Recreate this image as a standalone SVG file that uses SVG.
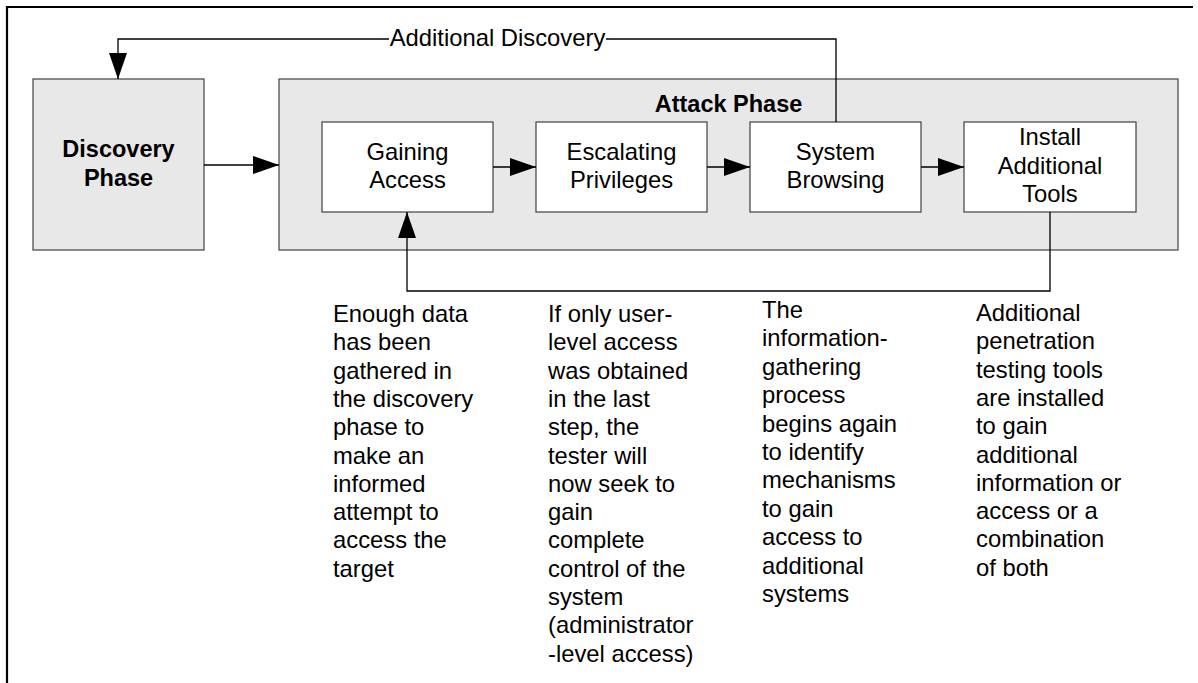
<svg xmlns="http://www.w3.org/2000/svg" width="1198" height="683" viewBox="0 0 1198 683">
<style>
.box{fill:#fff;stroke:#404040;stroke-width:1.2}
.phase{fill:#e8e8e8;stroke:#404040;stroke-width:1.2}
.t{font-family:"Liberation Sans",Arial,sans-serif;font-size:23.8px;fill:#000}
.b{font-weight:bold;font-size:23.5px}
.c{text-anchor:middle}
.ln{fill:none;stroke:#000;stroke-width:1.3}
</style>
<defs>
<marker id="ah" markerWidth="26" markerHeight="18" refX="26" refY="9" orient="auto" markerUnits="userSpaceOnUse">
<path d="M0,0 L26,9 L0,18 Z" fill="#000"/>
</marker>
</defs>
<rect width="1198" height="683" fill="#fff"/>
<path d="M7,683 V7 H1193" fill="none" stroke="#000" stroke-width="2.2"/>
<g id="discovery">
<rect class="phase" x="33" y="79" width="171" height="171"/>
<text class="t b c" x="118.5" y="157">Discovery</text>
<text class="t b c" x="118.5" y="186">Phase</text>
</g>
<g id="attack">
<rect class="phase" x="279" y="79" width="899" height="171"/>
<text class="t b c" x="728.5" y="112">Attack Phase</text>
</g>
<g id="gaining">
<rect class="box" x="322" y="122" width="171" height="90"/>
<text class="t c" x="407.5" y="160">Gaining</text>
<text class="t c" x="407.5" y="188">Access</text>
</g>
<g id="escalating">
<rect class="box" x="536" y="122" width="171" height="90"/>
<text class="t c" x="621.5" y="160">Escalating</text>
<text class="t c" x="621.5" y="188">Privileges</text>
</g>
<g id="browsing">
<rect class="box" x="750" y="122" width="171" height="90"/>
<text class="t c" x="835.5" y="160">System</text>
<text class="t c" x="835.5" y="188">Browsing</text>
</g>
<g id="install">
<rect class="box" x="964" y="122" width="172" height="90"/>
<text class="t c" x="1050" y="145">Install</text>
<text class="t c" x="1050" y="174">Additional</text>
<text class="t c" x="1050" y="202">Tools</text>
</g>
<g id="connectors">
<line class="ln" x1="204" y1="165" x2="279" y2="165" marker-end="url(#ah)"/>
<line class="ln" x1="493" y1="167" x2="536" y2="167" marker-end="url(#ah)"/>
<line class="ln" x1="707" y1="167" x2="750" y2="167" marker-end="url(#ah)"/>
<line class="ln" x1="921" y1="167" x2="964" y2="167" marker-end="url(#ah)"/>
<path class="ln" d="M836,122 V39 H606"/>
<path class="ln" d="M389,39 H118 V79" marker-end="url(#ah)"/>
<text class="t c" x="497.5" y="46">Additional Discovery</text>
<path class="ln" d="M1050,212 V291 H407 V212" marker-end="url(#ah)"/>
</g>
<g id="notes">
<text class="t" x="333" y="322">Enough data</text>
<text class="t" x="333" y="350.3">has been</text>
<text class="t" x="333" y="378.6">gathered in</text>
<text class="t" x="333" y="406.9">the discovery</text>
<text class="t" x="333" y="435.2">phase to</text>
<text class="t" x="333" y="463.5">make an</text>
<text class="t" x="333" y="491.8">informed</text>
<text class="t" x="333" y="520.1">attempt to</text>
<text class="t" x="333" y="548.4">access the</text>
<text class="t" x="333" y="576.7">target</text>

<text class="t" x="548" y="322">If only user-</text>
<text class="t" x="548" y="350.3">level access</text>
<text class="t" x="548" y="378.6">was obtained</text>
<text class="t" x="548" y="406.9">in the last</text>
<text class="t" x="548" y="435.2">step, the</text>
<text class="t" x="548" y="463.5">tester will</text>
<text class="t" x="548" y="491.8">now seek to</text>
<text class="t" x="548" y="520.1">gain</text>
<text class="t" x="548" y="548.4">complete</text>
<text class="t" x="548" y="576.7">control of the</text>
<text class="t" x="548" y="605">system</text>
<text class="t" x="548" y="633.3">(administrator</text>
<text class="t" x="548" y="661.6">-level access)</text>

<text class="t" x="762" y="318">The</text>
<text class="t" x="762" y="346.4">information-</text>
<text class="t" x="762" y="374.8">gathering</text>
<text class="t" x="762" y="403.2">process</text>
<text class="t" x="762" y="431.6">begins again</text>
<text class="t" x="762" y="460">to identify</text>
<text class="t" x="762" y="488.4">mechanisms</text>
<text class="t" x="762" y="516.8">to gain</text>
<text class="t" x="762" y="545.2">access to</text>
<text class="t" x="762" y="573.6">additional</text>
<text class="t" x="762" y="602">systems</text>

<text class="t" x="976" y="321">Additional</text>
<text class="t" x="976" y="349.3">penetration</text>
<text class="t" x="976" y="377.6">testing tools</text>
<text class="t" x="976" y="405.9">are installed</text>
<text class="t" x="976" y="434.2">to gain</text>
<text class="t" x="976" y="462.5">additional</text>
<text class="t" x="976" y="490.8">information or</text>
<text class="t" x="976" y="519.1">access or a</text>
<text class="t" x="976" y="547.4">combination</text>
<text class="t" x="976" y="575.7">of both</text>
</g>
</svg>
